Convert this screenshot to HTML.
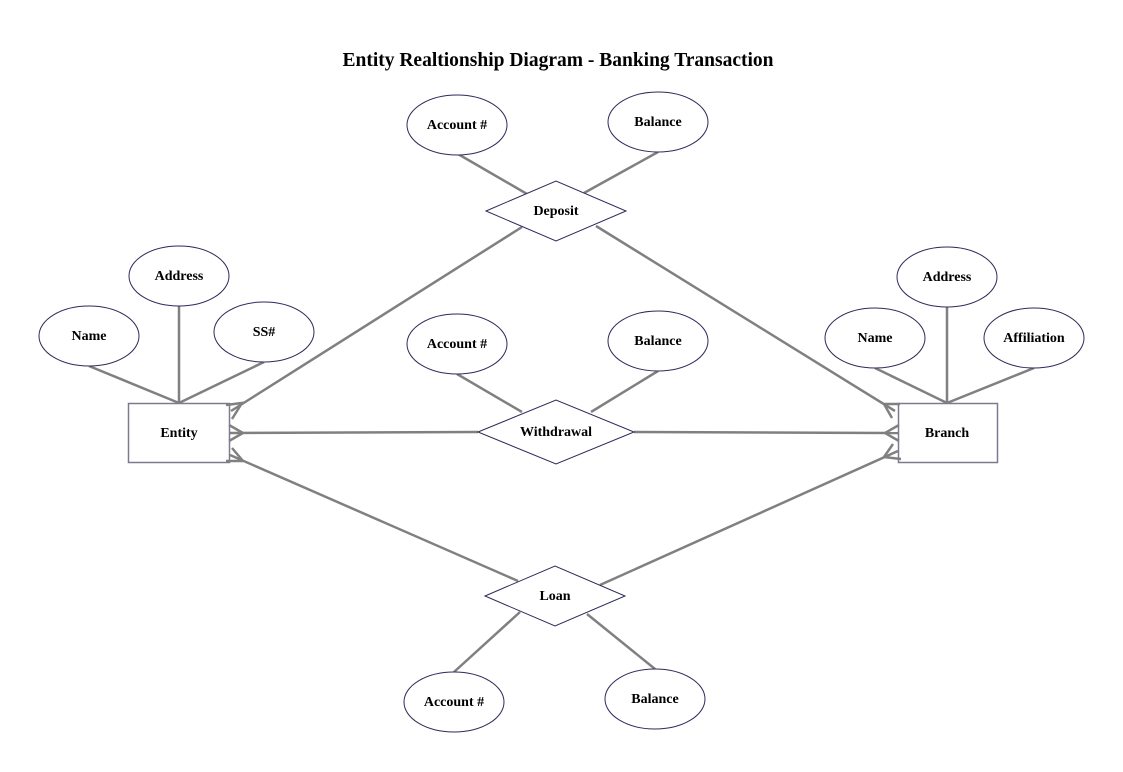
<!DOCTYPE html>
<html><head><meta charset="utf-8"><style>
html,body{margin:0;padding:0;background:#fff}
svg{display:block}
text{font-family:"Liberation Serif",serif;font-weight:bold;font-size:14px;fill:#000}
</style></head><body>
<svg width="1123" height="772" viewBox="0 0 1123 772" xmlns="http://www.w3.org/2000/svg">
<text x="558" y="66" text-anchor="middle" style="font-size:19.5px">Entity Realtionship Diagram - Banking Transaction</text>
<g stroke="#808080" stroke-width="2.5" fill="none">
<line x1="458" y1="154" x2="527" y2="194"/>
<line x1="658" y1="152" x2="584" y2="193"/>
<line x1="522" y1="227" x2="231" y2="411"/>
<line x1="596" y1="226" x2="895" y2="411"/>
<line x1="89" y1="366" x2="179" y2="403"/>
<line x1="179" y1="306" x2="179" y2="403"/>
<line x1="264" y1="362" x2="179" y2="403"/>
<line x1="478" y1="432" x2="230" y2="433"/>
<line x1="634" y1="432" x2="898" y2="433"/>
<line x1="457" y1="374" x2="522" y2="412"/>
<line x1="658" y1="371" x2="591" y2="412"/>
<line x1="518" y1="581" x2="230" y2="455"/>
<line x1="600" y1="585" x2="898" y2="451"/>
<line x1="520" y1="612" x2="454" y2="672"/>
<line x1="587" y1="614" x2="655" y2="669"/>
<line x1="875" y1="368" x2="947" y2="403"/>
<line x1="947" y1="307" x2="947" y2="403"/>
<line x1="1034" y1="368" x2="947" y2="403"/>
</g>
<g stroke="#2b2b5a" stroke-width="1" fill="#fff">
<ellipse cx="457" cy="125" rx="50" ry="30"/>
<ellipse cx="658" cy="122" rx="50" ry="30"/>
<ellipse cx="179" cy="276" rx="50" ry="30"/>
<ellipse cx="89" cy="336" rx="50" ry="30"/>
<ellipse cx="264" cy="332" rx="50" ry="30"/>
<ellipse cx="457" cy="344" rx="50" ry="30"/>
<ellipse cx="658" cy="341" rx="50" ry="30"/>
<ellipse cx="947" cy="277" rx="50" ry="30"/>
<ellipse cx="875" cy="338" rx="50" ry="30"/>
<ellipse cx="1034" cy="338" rx="50" ry="30"/>
<ellipse cx="454" cy="702" rx="50" ry="30"/>
<ellipse cx="655" cy="699" rx="50" ry="30"/>
<polygon points="486,211 556,181 626,211 556,241"/>
<polygon points="478,432 556,400 634,432 556,464"/>
<polygon points="485,596 555,566 625,596 555,626"/>
</g>
<g stroke="#7a7a90" stroke-width="1.5" fill="#fff">
<rect x="128.5" y="403.5" width="101" height="59"/>
<rect x="898.5" y="403.5" width="99" height="59"/>
</g>
<g stroke="#808080" stroke-width="2.5" fill="none">
<polyline points="232,419 242,403 226,405"/>
<polyline points="229,425 243,433 229,441"/>
<polyline points="226,461 243,461 232,448"/>
<polyline points="900,404 884,404 892,418"/>
<polyline points="899,425 885,433 899,441"/>
<polyline points="901,459 884,457 893,444"/>
</g>
<g text-anchor="middle">
<text x="457" y="129">Account #</text>
<text x="658" y="126">Balance</text>
<text x="556" y="215">Deposit</text>
<text x="179" y="280">Address</text>
<text x="89" y="340">Name</text>
<text x="264" y="336">SS#</text>
<text x="457" y="348">Account #</text>
<text x="658" y="345">Balance</text>
<text x="556" y="436">Withdrawal</text>
<text x="179" y="437">Entity</text>
<text x="947" y="437">Branch</text>
<text x="947" y="281">Address</text>
<text x="875" y="342">Name</text>
<text x="1034" y="342">Affiliation</text>
<text x="555" y="600">Loan</text>
<text x="454" y="706">Account #</text>
<text x="655" y="703">Balance</text>
</g>
</svg>
</body></html>
